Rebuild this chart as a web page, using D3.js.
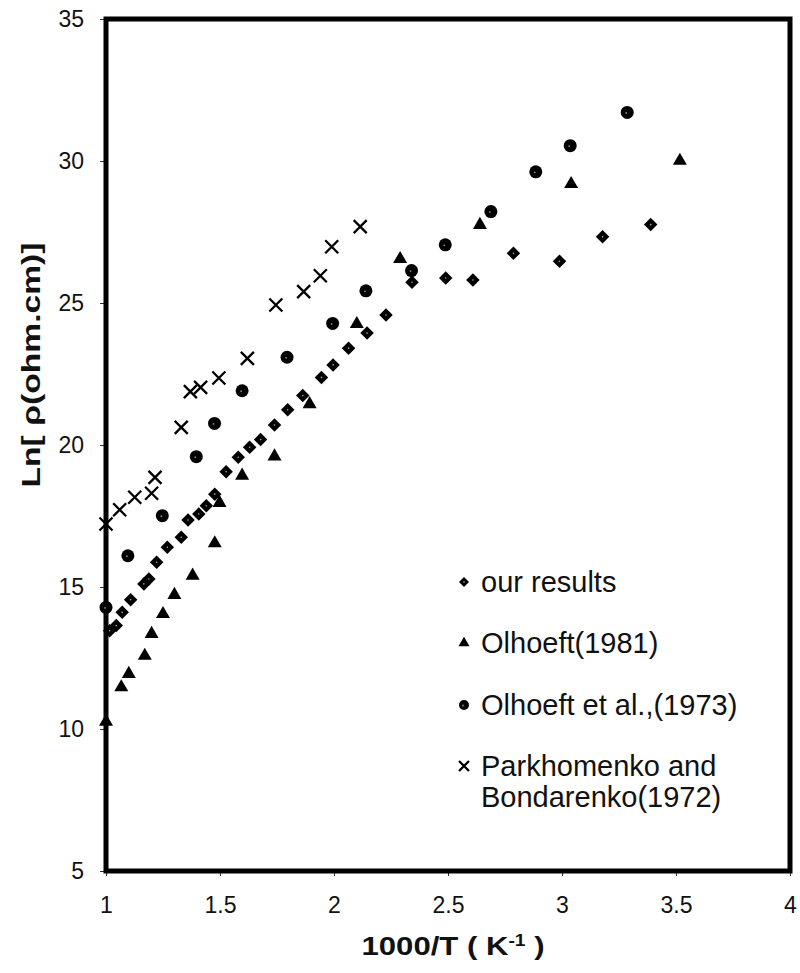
<!DOCTYPE html>
<head>
<meta charset="utf-8">
<title>Ln resistivity vs 1000/T</title>
<style>
body {
  margin: 0;
  padding: 0;
  background: #fff;
  font-family: "Liberation Sans", Arial, sans-serif;
}
.tick text {
  font-size: 23px;
  fill: #111;
}
.axis-title {
  font-size: 26px;
  font-weight: bold;
  fill: #111;
}
.legend text {
  font-size: 29px;
  fill: #111;
}
</style>
</head>
<body>
<svg id="viz" width="800" height="973"></svg>
<script src="https://d3js.org/d3.v7.min.js"></script>
<script>

// our results (diamonds)
var ourX = [1.016, 1.045, 1.071, 1.108, 1.166, 1.188, 1.222, 1.269, 1.33, 1.36, 1.407, 1.44, 1.477, 1.527, 1.58, 1.63,
  1.678, 1.739, 1.797, 1.863, 1.945, 1.996, 2.064, 2.145, 2.228, 2.342, 2.49, 2.609, 2.787, 2.989, 3.178, 3.389]
var ourY = [13.46, 13.64, 14.11, 14.55, 15.11, 15.28, 15.87, 16.4, 16.75, 17.36, 17.57, 17.86, 18.27, 19.06, 19.57, 19.92,
  20.19, 20.7, 21.24, 21.74, 22.38, 22.82, 23.41, 23.94, 24.58, 25.73, 25.88, 25.81, 26.75, 26.47, 27.33, 27.76]

// Olhoeft (1981) (triangles)
var olh81X = [1.0, 1.067, 1.1, 1.17, 1.2, 1.25, 1.3, 1.38, 1.477, 1.498, 1.597, 1.739, 1.893, 2.1, 2.29, 2.64, 3.04, 3.517]
var olh81Y = [10.26, 11.47, 11.94, 12.58, 13.35, 14.05, 14.72, 15.4, 16.54, 17.96, 18.92, 19.6, 21.44, 24.26, 26.55, 27.75, 29.19, 30.01]

// Olhoeft et al. (1973) (circles)
var olh73X = [1.0, 1.096, 1.247, 1.396, 1.476, 1.597, 1.794, 1.994, 2.14, 2.34, 2.488, 2.688, 2.885, 3.036, 3.286]
var olh73Y = [14.28, 16.1, 17.51, 19.59, 20.76, 21.91, 23.09, 24.28, 25.43, 26.14, 27.05, 28.22, 29.62, 30.54, 31.71]

// Parkhomenko and Bondarenko (1972) (crosses)
var parkX = [1.0, 1.06, 1.126, 1.2, 1.215, 1.33, 1.37, 1.415, 1.495, 1.62, 1.745, 1.867, 1.94, 1.99, 2.115]
var parkY = [17.22, 17.72, 18.16, 18.3, 18.86, 20.62, 21.88, 22.03, 22.36, 23.05, 24.93, 25.4, 25.96, 26.98, 27.69]

var xTicks = [1, 1.5, 2, 2.5, 3, 3.5, 4]
var yTicks = [5, 10, 15, 20, 25, 30, 35]

var legendLabels = ['our results', 'Olhoeft(1981)', 'Olhoeft et al.,(1973)', ['Parkhomenko and', 'Bondarenko(1972)']]

var svg = d3.select('#viz')
var box = { left: 106, right: 790, top: 19, bottom: 871 }

var x = d3.scaleLinear().domain([1, 4]).range([box.left, box.right])
var y = d3.scaleLinear().domain([5, 35]).range([box.bottom, box.top])

function pairs(xs, ys) {
  return xs.map(function(v, i) { return [v, ys[i]] })
}

// axes
var yAxis = svg.append('g')
  .attr('transform', 'translate(' + box.left + ',0)')
  .call(d3.axisLeft(y).tickValues(yTicks).tickFormat(d3.format('d')).tickSize(6).tickPadding(16))
yAxis.select('.domain').remove()
yAxis.selectAll('.tick line').attr('stroke', '#333')
yAxis.selectAll('.tick text').attr('font-family', null).attr('font-size', null)

var xAxis = svg.append('g')
  .attr('transform', 'translate(0,' + box.bottom + ')')
  .call(d3.axisBottom(x).tickValues(xTicks).tickFormat(function(d) { return d }).tickSize(5).tickPadding(21))
xAxis.select('.domain').remove()
xAxis.selectAll('.tick line').attr('stroke', '#333')
xAxis.selectAll('.tick text').attr('font-family', null).attr('font-size', null)

// frame
svg.append('rect')
  .attr('x', box.left)
  .attr('y', box.top)
  .attr('width', box.right - box.left)
  .attr('height', box.bottom - box.top)
  .attr('fill', 'none')
  .attr('stroke', '#000')
  .attr('stroke-width', 5)

// marker drawers
function drawDiamond(g, s) {
  g.append('path')
    .attr('d', d3.symbol(d3.symbolSquare, s * s / 2)())
    .attr('transform', 'rotate(45)')
    .attr('fill', '#000')
  g.append('circle').attr('r', 0.8).attr('fill', '#aaa')
}
function drawTriangle(g, s) {
  g.append('path')
    .attr('d', d3.symbol(d3.symbolTriangle, s * s * Math.sqrt(3) / 4)())
    .attr('fill', '#000')
}
function drawCircle(g, s) {
  g.append('circle').attr('r', s / 2).attr('fill', '#000')
  g.append('circle').attr('r', 0.9).attr('cx', -1).attr('cy', 0.5).attr('fill', '#888')
}
function drawCross(g, s) {
  var h = s / 2
  g.append('path')
    .attr('d', 'M' + -h + ',' + -h + 'L' + h + ',' + h + 'M' + -h + ',' + h + 'L' + h + ',' + -h)
    .attr('stroke', '#000')
    .attr('stroke-width', 2.3)
}

var series = [
  { pts: pairs(parkX, parkY), draw: drawCross, size: 13 },
  { pts: pairs(olh73X, olh73Y), draw: drawCircle, size: 13 },
  { pts: pairs(olh81X, olh81Y), draw: drawTriangle, size: 14 },
  { pts: pairs(ourX, ourY), draw: drawDiamond, size: 13.5 }
]

series.forEach(function(s) {
  svg.append('g')
    .selectAll('g')
    .data(s.pts)
    .enter().append('g')
      .attr('transform', function(d) { return 'translate(' + x(d[0]) + ',' + y(d[1]) + ')' })
      .each(function() { s.draw(d3.select(this), s.size) })
})

// legend
var legend = svg.append('g').attr('class', 'legend')
var legendRows = [
  { draw: drawDiamond, size: 10, y: 582 },
  { draw: drawTriangle, size: 11, y: 643 },
  { draw: drawCircle, size: 10, y: 705 },
  { draw: drawCross, size: 10, y: 766 }
]
legendRows.forEach(function(r, i) {
  var m = legend.append('g').attr('transform', 'translate(464,' + r.y + ')')
  r.draw(m, r.size)
  var lab = legendLabels[i]
  var lines = Array.isArray(lab) ? lab : [lab]
  lines.forEach(function(t, j) {
    legend.append('text')
      .attr('x', 481)
      .attr('y', r.y + j * 31)
      .attr('dy', '0.36em')
      .text(t)
  })
})

// axis titles
var xt = svg.append('text')
  .attr('class', 'axis-title')
  .attr('x', 453)
  .attr('y', 955)
  .attr('text-anchor', 'middle')
  .attr('textLength', 183)
  .attr('lengthAdjust', 'spacingAndGlyphs')
xt.append('tspan').text('1000/T  ( K')
xt.append('tspan').attr('dy', -9).attr('font-size', 16).text('-1')
xt.append('tspan').attr('dy', 9).text(' )')

svg.append('text')
  .attr('class', 'axis-title')
  .attr('transform', 'translate(40,365) rotate(-90)')
  .attr('text-anchor', 'middle')
  .attr('textLength', 245)
  .attr('lengthAdjust', 'spacingAndGlyphs')
  .text('Ln[ \u03c1(ohm.cm)]')

</script>
</body>
</html>
